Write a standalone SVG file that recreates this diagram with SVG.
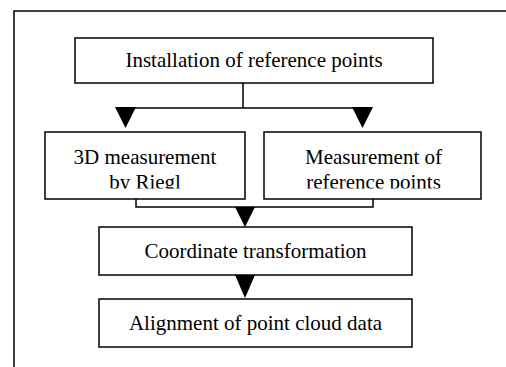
<svg xmlns="http://www.w3.org/2000/svg" width="506" height="367" viewBox="0 0 506 367">
<style>
.box{fill:#fff;stroke:#000;stroke-width:1.5}
.ln{fill:none;stroke:#000;stroke-width:1.5}
.ah{fill:#000}
.t{font-family:"Liberation Serif","Times New Roman",serif;font-size:21px;text-anchor:middle;fill:#000}
</style>
<defs>
<clipPath id="cl"><rect x="45" y="132" width="200" height="56.5"/></clipPath>
<clipPath id="cr"><rect x="264" y="132" width="217" height="56.5"/></clipPath>
</defs>
<rect width="506" height="367" fill="#fff"/>
<path class="ln" d="M14,367 V11 H506"/>
<g id="connectors">
<path class="ln" d="M243,83 V108 M125,108 H363"/>
<polygon class="ah" points="115,107 136,107 125.5,128"/>
<polygon class="ah" points="352,107 373,107 362.5,128"/>
<path class="ln" d="M136,199 V207 H373 V199"/>
<polygon class="ah" points="235,207 255,207 245,227"/>
<polygon class="ah" points="235,275 255,275 245,298"/>
</g>
<g id="n1">
<rect class="box" x="75" y="38" width="358" height="45"/>
<text class="t" x="254" y="67">Installation of reference points</text>
</g>
<g id="n2">
<rect class="box" x="45" y="132" width="200" height="67"/>
<g clip-path="url(#cl)">
<text class="t" x="145" y="164">3D measurement</text>
<text class="t" x="145" y="188.5">by Riegl</text>
</g>
</g>
<g id="n3">
<rect class="box" x="264" y="132" width="217" height="67"/>
<g clip-path="url(#cr)">
<text class="t" x="373.5" y="164">Measurement of</text>
<text class="t" x="373.5" y="188.5">reference points</text>
</g>
</g>
<g id="n4">
<rect class="box" x="99" y="227" width="313" height="48"/>
<text class="t" x="255.5" y="258">Coordinate transformation</text>
</g>
<g id="n5">
<rect class="box" x="99" y="299" width="313" height="48"/>
<text class="t" x="255.5" y="330">Alignment of point cloud data</text>
</g>
</svg>
